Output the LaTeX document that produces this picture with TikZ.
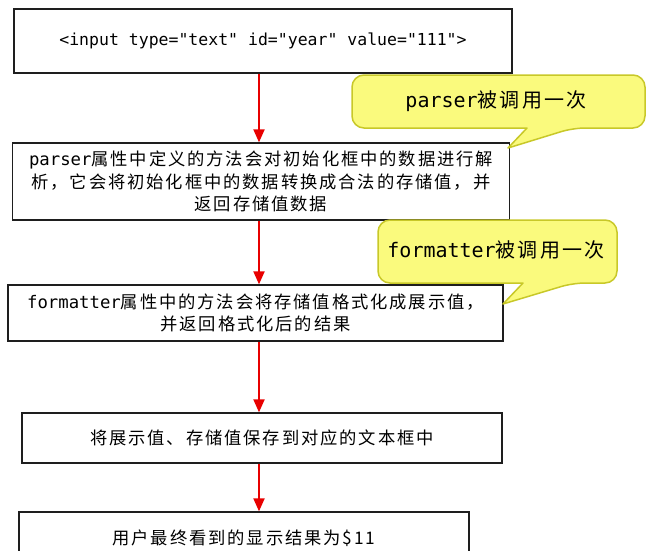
\documentclass[tikz,border=0pt]{standalone}
\usepackage{fontspec}
\usetikzlibrary{arrows.meta}
\newfontfamily\cjk[LetterSpace=11]{Noto Sans CJK SC}
\newfontfamily\mono{DejaVu Sans Mono}
\definecolor{arrred}{RGB}{232,0,0}
\definecolor{calfill}{RGB}{250,250,125}
\definecolor{caldraw}{RGB}{200,200,40}
\definecolor{boxline}{RGB}{30,30,30}
\begin{document}
\begin{tikzpicture}[x=1pt,y=-1pt,
  flowbox/.style={draw=boxline,line width=1.3pt,fill=white,inner sep=0pt,align=center,
    font=\fontsize{17.3}{22.5}\selectfont\cjk,text=black},
  flowarrow/.style={draw=arrred,line width=2pt,-{Triangle[width=11pt,length=13pt]}},
  callout/.style={draw=caldraw,fill=calfill,line width=1.5pt,line join=round},
  callouttext/.style={font=\fontsize{20}{22}\selectfont\cjk,text=black,inner sep=0pt}]
\useasboundingbox (0,0) rectangle (647,550);
\clip (0,0) rectangle (647,550);

\coordinate (ax) at (259,0);

\node[flowbox,minimum width=498pt,minimum height=64pt] (b1) at (263,41)
  {{\mono\fontsize{16.5}{20}\selectfont <input type="text" id="year" value="111">}};

\node[flowbox,minimum width=497pt,minimum height=77pt] (b2) at (261,181.5)
  {{\mono parser}属性中定义的方法会对初始化框中的数据进行解\\
   析，它会将初始化框中的数据转换成合法的存储值，并\\
   返回存储值数据};

\node[flowbox,minimum width=495pt,minimum height=56pt] (b3) at (255.5,313)
  {{\mono formatter}属性中的方法会将存储值格式化成展示值，\\
   并返回格式化后的结果};

\node[flowbox,minimum width=480pt,minimum height=50pt] (b4) at (262,438)
  {将展示值、存储值保存到对应的文本框中};

\node[flowbox,minimum width=450pt,minimum height=52pt] (b5) at (244,538)
  {用户最终看到的显示结果为\$11};

\draw[flowarrow] (b1.south -| ax) -- (b2.north -| ax);
\draw[flowarrow] (b2.south -| ax) -- (b3.north -| ax);
\draw[flowarrow] (b3.south -| ax) -- (b4.north -| ax);
\draw[flowarrow] (b4.south -| ax) -- (b5.north -| ax);

% callout 1
\path[callout,rounded corners=12pt] (352,101) |- (645,75) |- (573,128)
  [sharp corners] -- (508,148) -- (527,128)
  [rounded corners=12pt] -| (352,101) -- cycle;
\node[callouttext] (c1) at (496,101) {{\mono parser}被调用一次};

% callout 2
\path[callout,rounded corners=12pt] (378,251) |- (617,220) |- (573,283)
  [sharp corners] -- (503,304) -- (523,283)
  [rounded corners=12pt] -| (378,251) -- cycle;
\node[callouttext] (c2) at (496,250) {{\mono formatter}被调用一次};
\end{tikzpicture}
\end{document}
